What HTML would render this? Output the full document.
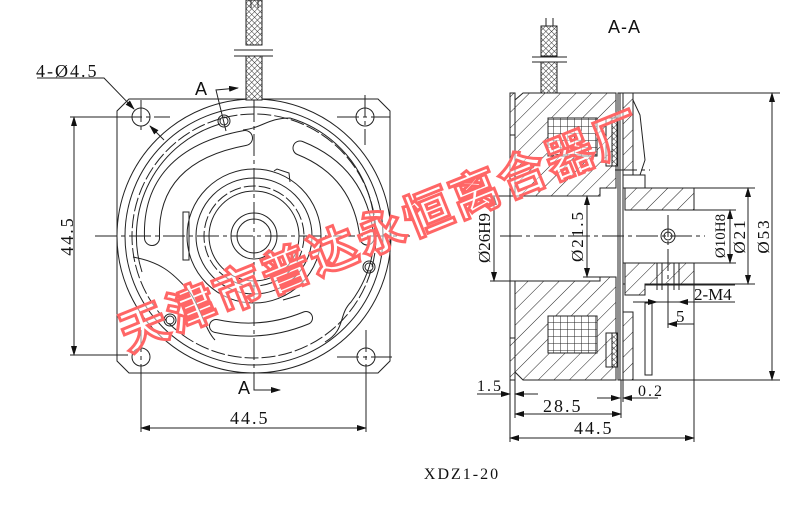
<!DOCTYPE html>
<html><head><meta charset="utf-8"><style>
html,body{margin:0;padding:0;background:#fff;width:800px;height:518px;overflow:hidden}
svg{display:block}
text{font-family:"Liberation Serif","Noto Serif CJK SC",serif;fill:#111}
</style></head><body>
<svg width="800" height="518" viewBox="0 0 800 518" xmlns="http://www.w3.org/2000/svg">
<defs>
<pattern id="h" patternUnits="userSpaceOnUse" width="11" height="11" patternTransform="rotate(45)">
<rect width="11" height="11" fill="#fff"/><line x1="0" y1="0" x2="0" y2="11" stroke="#222" stroke-width="1"/></pattern>
<pattern id="x" patternUnits="userSpaceOnUse" width="4" height="4" patternTransform="rotate(45)">
<rect width="4" height="4" fill="#fff"/><path d="M0 0V4M0 0H4" stroke="#333" stroke-width="1"/></pattern>
<pattern id="g" patternUnits="userSpaceOnUse" width="7" height="7">
<rect width="7" height="7" fill="#fff"/><path d="M0 0V7M0 0H7" stroke="#222" stroke-width="1"/></pattern>
<marker id="a" markerWidth="10" markerHeight="6" refX="9" refY="3" orient="auto-start-reverse" markerUnits="userSpaceOnUse"><path d="M0 0L10 3L0 6z" fill="#111"/></marker>
</defs>
<g stroke="#222" stroke-width="1" fill="none">
<!-- LEFT VIEW -->
<path d="M129 99H378L390 111V361L378 373H129L117 361V111Z"/>
<circle cx="254" cy="236" r="137"/>
<circle cx="254" cy="236" r="129"/>
<circle cx="254" cy="236" r="122" stroke-dasharray="14 3"/>
<path d="M142 272 A117 117 0 0 1 220 124"/>
<circle cx="254" cy="236" r="67"/>
<circle cx="254" cy="236" r="58"/>
<circle cx="254" cy="236" r="50" stroke-dasharray="12 3"/>
<circle cx="254" cy="236" r="45"/>
<circle cx="254" cy="236" r="23"/>
<circle cx="254" cy="236" r="17"/>
<!-- slots (outlined thick strokes) -->
<g stroke-linecap="round">
<path d="M300 148 Q360 172 367 238" stroke="#222" stroke-width="15"/>
<path d="M300 148 Q360 172 367 238" stroke="#fff" stroke-width="13"/>
<path d="M216 326 Q262 336 306 318" stroke="#222" stroke-width="14"/>
<path d="M216 326 Q262 336 306 318" stroke="#fff" stroke-width="12"/>
<path d="M152 238 C150 185 180 150 245 138" stroke="#222" stroke-width="16"/>
<path d="M152 238 C150 185 180 150 245 138" stroke="#fff" stroke-width="14"/>
</g>
<path d="M243 130 C262 128 268 118 290 118 A118 118 0 0 1 351 302 C338 315 346 330 325 342"/>
<path d="M133 257 C160 262 172 272 188 290 C200 305 205 330 215 340"/>
<path d="M183 212 H189 V260 H183Z M274 171 L277 169 L289 173 L290 182 M283 300 L290 298 L300 295"/>
<circle cx="141" cy="117" r="9"/><circle cx="365" cy="117" r="9"/>
<circle cx="141" cy="357" r="9"/><circle cx="366" cy="357" r="9"/>
<circle cx="224" cy="121" r="4"/><circle cx="224" cy="121" r="6"/>
<circle cx="369" cy="267" r="4"/><circle cx="369" cy="267" r="6"/>
<circle cx="170" cy="320" r="4"/><circle cx="170" cy="320" r="6"/>
<g stroke-dasharray="22 4 4 4">
<line x1="254" y1="100" x2="254" y2="390"/><line x1="95" y1="236" x2="410" y2="236"/>
<line x1="141" y1="100" x2="141" y2="130"/><line x1="120" y1="117" x2="170" y2="117"/>
<line x1="365" y1="95" x2="365" y2="145"/><line x1="337" y1="117" x2="390" y2="117"/>
<line x1="141" y1="330" x2="141" y2="430"/><line x1="337" y1="357" x2="392" y2="357"/>
<line x1="366" y1="330" x2="366" y2="430"/>
</g>
<!-- cable -->
<rect x="246" y="0" width="16" height="45" fill="url(#x)"/>
<rect x="246" y="56" width="16" height="44" fill="url(#x)"/>
<line x1="234" y1="50" x2="273" y2="50"/><line x1="234" y1="56" x2="273" y2="56"/>
<line x1="251" y1="0" x2="251" y2="8"/><line x1="258" y1="0" x2="258" y2="8"/>
<!-- section marks -->
<path d="M226 131 L216 90 L238 88" marker-end="url(#a)"/>
<path d="M254 383 V390 H280" marker-end="url(#a)"/>
<!-- dims -->
<line x1="74" y1="117" x2="74" y2="355" marker-start="url(#a)" marker-end="url(#a)"/>
<line x1="70" y1="117" x2="128" y2="117"/><line x1="70" y1="355" x2="128" y2="355"/>
<line x1="141" y1="368" x2="141" y2="432"/><line x1="366" y1="368" x2="366" y2="432"/>
<line x1="141" y1="428" x2="366" y2="428" marker-start="url(#a)" marker-end="url(#a)"/>
<path d="M37 78 H104 L134 109" marker-end="url(#a)"/>
<line x1="150" y1="126" x2="164" y2="140" marker-start="url(#a)"/>

<!-- RIGHT VIEW -->
<path d="M510 93 H515 V135 H510Z M510 338 H515 V380 H510Z" fill="url(#h)"/>
<path d="M523 93 H616 V188 H600 V196 H515 V100Z" fill="url(#h)"/>
<path d="M515 281 H600 V277 H616 V380 H523 L515 372Z" fill="url(#h)"/>
<rect x="548" y="118" width="49" height="38" fill="url(#g)"/>
<rect x="548" y="316" width="49" height="37" fill="url(#g)"/>
<rect x="606" y="118" width="10" height="48" fill="url(#h)"/>
<rect x="612" y="118" width="5" height="48" fill="url(#x)"/>
<rect x="606" y="333" width="10" height="34" fill="url(#h)"/>
<rect x="612" y="333" width="5" height="34" fill="url(#x)"/>
<line x1="510" y1="93" x2="510" y2="380"/>
<rect x="618" y="93" width="5" height="287" fill="#fff"/>
<line x1="620" y1="93" x2="620" y2="380"/>
<path d="M623 93 H633 V175 H623Z" fill="url(#h)"/>
<path d="M633 100 L640 115 L645 160 L640 175 H633" />
<path d="M623 312 H633 V380 H623Z" fill="url(#h)"/>
<path d="M623 188 H694 V210 H633 M623 263 H694 V284 H623" />
<path d="M625 188 H694 V210 H625Z" fill="url(#h)"/>
<path d="M625 263 H694 V284 H645 V295 H625Z" fill="url(#h)"/>
<path d="M623 175 V188 M633 175 H645 V188"/>
<rect x="645" y="303" width="7" height="72"/>
<line x1="657" y1="263" x2="657" y2="290"/><line x1="662" y1="263" x2="662" y2="290"/>
<line x1="674" y1="263" x2="674" y2="290"/><line x1="679" y1="263" x2="679" y2="290"/>
<circle cx="668" cy="236" r="7"/><circle cx="668" cy="236" r="4"/>
<rect x="541" y="26" width="16" height="30" fill="url(#x)"/>
<rect x="541" y="62" width="16" height="31" fill="url(#x)"/>
<line x1="532" y1="57" x2="567" y2="57"/><line x1="532" y1="62" x2="567" y2="62"/>
<line x1="546" y1="18" x2="546" y2="26"/><line x1="553" y1="18" x2="553" y2="26"/>
<g stroke-dasharray="22 4 4 4">
<line x1="500" y1="236" x2="705" y2="236"/><line x1="668" y1="215" x2="668" y2="325"/>
<line x1="615" y1="170" x2="650" y2="170"/>
</g>
<!-- right dims -->
<line x1="633" y1="93" x2="780" y2="93"/><line x1="623" y1="380" x2="780" y2="380"/>
<line x1="772" y1="93" x2="772" y2="380" marker-start="url(#a)" marker-end="url(#a)"/>
<line x1="694" y1="188" x2="755" y2="188"/><line x1="694" y1="284" x2="755" y2="284"/>
<line x1="748" y1="188" x2="748" y2="284" marker-start="url(#a)" marker-end="url(#a)"/>
<line x1="694" y1="210" x2="736" y2="210"/><line x1="694" y1="263" x2="736" y2="263"/>
<line x1="730" y1="210" x2="730" y2="263" marker-start="url(#a)" marker-end="url(#a)"/>
<line x1="490" y1="196" x2="515" y2="196"/><line x1="490" y1="281" x2="515" y2="281"/>
<line x1="494" y1="196" x2="494" y2="281" marker-start="url(#a)" marker-end="url(#a)"/>
<line x1="583" y1="196" x2="600" y2="196"/><line x1="583" y1="277" x2="600" y2="277"/>
<line x1="587" y1="196" x2="587" y2="277" marker-start="url(#a)" marker-end="url(#a)"/>
<line x1="694" y1="284" x2="694" y2="442"/>
<path d="M645 285 H735 M633 302 H735" />
<line x1="640" y1="302" x2="657" y2="302" marker-end="url(#a)"/>
<line x1="700" y1="302" x2="679" y2="302" marker-end="url(#a)"/>
<line x1="668" y1="290" x2="668" y2="328"/><line x1="694" y1="290" x2="694" y2="328"/>
<line x1="668" y1="324" x2="694" y2="324" marker-start="url(#a)"/>
<line x1="510" y1="380" x2="510" y2="442"/><line x1="515" y1="380" x2="515" y2="418"/>
<line x1="621" y1="380" x2="621" y2="418"/><line x1="623" y1="380" x2="623" y2="402"/>
<line x1="477" y1="394" x2="510" y2="394" marker-end="url(#a)"/>
<line x1="538" y1="394" x2="515" y2="394" marker-end="url(#a)"/>
<line x1="597" y1="398" x2="620" y2="398" marker-end="url(#a)"/>
<line x1="658" y1="398" x2="623" y2="398" marker-end="url(#a)"/>
<line x1="515" y1="414" x2="621" y2="414" marker-start="url(#a)" marker-end="url(#a)"/>
<line x1="510" y1="438" x2="694" y2="438" marker-start="url(#a)" marker-end="url(#a)"/>
</g>
<g font-size="18" letter-spacing="2">
<text x="36" y="77">4-Ø4.5</text>
<text x="230" y="424">44.5</text>
<text transform="translate(73,236) rotate(-90)" text-anchor="middle">44.5</text>
<text x="574" y="434">44.5</text>
<text x="543" y="412">28.5</text>
<text x="477" y="391" font-size="16">1.5</text>
<text x="638" y="396" font-size="16">0.2</text>
<text x="694" y="300" font-size="17" letter-spacing="0">2-M4</text>
<text x="676" y="322" font-size="17">5</text>
<text transform="translate(490,238) rotate(-90)" text-anchor="middle" font-size="17" letter-spacing="0">Ø26H9</text>
<text transform="translate(583,236) rotate(-90)" text-anchor="middle" font-size="17">Ø21.5</text>
<text transform="translate(725,236) rotate(-90)" text-anchor="middle" font-size="15" letter-spacing="0">Ø10H8</text>
<text transform="translate(745,236) rotate(-90)" text-anchor="middle" font-size="17">Ø21</text>
<text transform="translate(769,236) rotate(-90)" text-anchor="middle" font-size="17">Ø53</text>
</g>
<g font-size="18" fill="#222">
<text x="195" y="95" style="font-family:'Liberation Sans',sans-serif">A</text>
<text x="238" y="394" style="font-family:'Liberation Sans',sans-serif">A</text>
<text x="608" y="33" style="font-family:'Liberation Sans',sans-serif" letter-spacing="1">A-A</text>
</g>
<text x="462" y="479" text-anchor="middle" font-size="16" letter-spacing="2">XDZ1-20</text>
<text transform="translate(128,352) rotate(-22)" font-size="48" style="font-family:'Noto Sans CJK SC',sans-serif;fill:rgba(255,255,255,0.5);stroke:#f66;stroke-width:3;font-weight:bold" letter-spacing="3">天津市普达永恒离合器厂</text>
</svg>
</body></html>
